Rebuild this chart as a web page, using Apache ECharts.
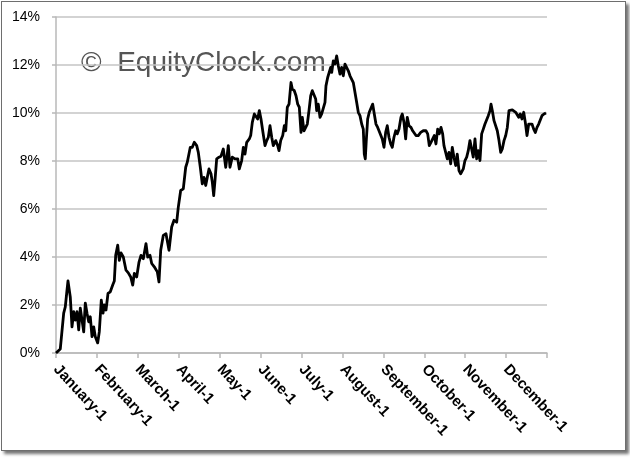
<!DOCTYPE html>
<html>
<head>
<meta charset="utf-8">
<script src="https://cdn.jsdelivr.net/npm/echarts@6/dist/echarts.min.js"></script>
<style>
  html, body { margin: 0; padding: 0; background: #fff; }
  #frame { position: absolute; left: 1px; top: 1px; width: 623px; height: 448px;
           border: 1px solid #6e6e6e; box-shadow: 3px 3px 3px rgba(0,0,0,0.55); background: #fff; }
  #chart { position: absolute; left: 0; top: 0; width: 630px; height: 458px; }
</style>
</head>
<body>
<div id="frame"></div>
<div id="chart"></div>
<script>
// Month tick labels (x axis, month positions 0..11)
const monthLabels = ['January-1','February-1','March-1','April-1','May-1','June-1',
                     'July-1','August-1','September-1','October-1','November-1','December-1'];
// Y axis tick values (percent)
const yTicks = [0, 2, 4, 6, 8, 10, 12, 14];
// Position within the year, in months from January-1
const monthPos = [
 0.00,0.105,0.188,0.227,0.262,0.293,0.349,0.391,0.433,0.472,0.513,0.555,0.594,0.635,0.677,0.716,0.758,0.799,0.838,0.880,
 0.921,0.961,1.019,1.058,1.107,1.149,1.180,1.222,1.271,1.327,1.386,1.425,1.459,1.508,1.547,1.589,1.645,1.711,1.767,1.826,
 1.875,1.914,1.972,2.029,2.077,2.134,2.200,2.241,2.297,2.339,2.402,2.476,2.517,2.559,2.622,2.688,2.762,2.827,2.884,2.950,
 2.989,3.047,3.111,3.170,3.209,3.250,3.282,3.331,3.380,3.439,3.478,3.527,3.575,3.617,3.659,3.698,3.739,3.788,3.820,3.854,
 3.886,3.927,3.984,4.033,4.089,4.148,4.211,4.252,4.309,4.375,4.441,4.480,4.538,4.578,4.619,4.661,4.724,4.758,4.798,4.847,
 4.888,4.929,4.969,5.010,5.052,5.108,5.150,5.189,5.230,5.272,5.311,5.370,5.419,5.450,5.492,5.541,5.580,5.614,5.653,5.695,
 5.743,5.775,5.824,5.866,5.907,5.946,5.988,6.020,6.061,6.103,6.142,6.183,6.225,6.264,6.305,6.347,6.371,6.410,6.452,6.493,
 6.532,6.574,6.598,6.640,6.672,6.713,6.738,6.777,6.819,6.860,6.899,6.941,6.982,7.021,7.063,7.104,7.144,7.185,7.227,7.266,
 7.307,7.349,7.388,7.429,7.471,7.510,7.534,7.559,7.583,7.617,7.656,7.698,7.740,7.779,7.820,7.862,7.894,7.942,7.974,8.016,
 8.057,8.096,8.138,8.180,8.219,8.260,8.302,8.341,8.383,8.431,8.463,8.505,8.546,8.585,8.627,8.676,8.717,8.756,8.798,8.854,
 8.913,8.976,9.042,9.084,9.123,9.164,9.206,9.245,9.286,9.328,9.367,9.409,9.450,9.482,9.523,9.563,9.604,9.646,9.685,9.726,
 9.768,9.807,9.849,9.890,9.929,9.954,9.995,10.037,10.076,10.117,10.159,10.198,10.240,10.281,10.320,10.362,10.403,10.443,10.484,10.526,
 10.565,10.607,10.631,10.663,10.705,10.746,10.785,10.827,10.868,10.907,10.949,10.991,11.030,11.071,11.113,11.152,11.194,11.235,11.274,11.308,
 11.347,11.389,11.431,11.470,11.511,11.553,11.592,11.633,11.675,11.714,11.756,11.797,11.836,11.877,11.926,11.975
];
// Cumulative seasonal return, percent
const returnPct = [
 0.00,0.17,1.66,1.92,2.50,3.00,2.34,1.09,1.72,1.37,1.72,0.96,1.87,1.92,0.88,2.08,1.66,1.30,1.51,0.68,
 1.09,0.68,0.42,0.88,2.20,1.66,2.00,1.79,2.48,2.55,2.83,3.00,4.07,4.49,3.86,4.17,4.00,3.45,3.34,3.17,
 2.83,3.32,3.17,3.79,4.07,3.93,4.56,4.00,4.07,3.73,3.59,3.38,2.96,4.28,4.90,4.97,4.28,5.25,5.53,5.45,
 6.08,6.77,6.84,7.74,7.95,7.88,8.57,8.57,8.78,8.64,8.36,7.74,7.05,7.32,6.98,7.32,7.67,7.47,7.12,6.56,
 7.19,8.09,8.16,8.20,8.50,7.74,8.64,7.74,8.16,8.09,8.09,7.67,8.02,8.57,8.29,8.78,8.92,9.06,9.61,9.96,
 10.03,9.75,10.10,9.75,9.26,8.64,8.85,8.99,9.47,8.99,8.64,8.85,8.64,8.43,8.85,9.06,9.47,9.26,10.24,10.37,
 11.27,11.00,10.93,10.72,10.37,10.24,9.19,9.82,9.26,9.26,9.54,10.10,10.72,10.93,10.93,10.58,10.10,10.37,9.82,9.96,
 10.03,10.44,11.13,11.48,11.41,11.90,11.69,12.17,12.04,12.38,11.97,11.62,11.90,11.55,12.04,12.04,11.76,11.55,11.62,11.27,
 11.34,10.44,10.03,9.89,9.54,9.33,8.29,8.09,8.85,9.75,10.03,9.96,10.37,9.96,9.54,9.40,9.26,9.19,8.92,8.57,
 9.19,9.47,8.99,8.71,8.57,8.99,9.26,9.13,9.33,9.82,9.96,9.61,8.92,9.82,9.47,9.40,9.26,9.19,9.06,9.06,
 9.19,9.26,9.26,9.13,8.64,8.78,8.78,9.06,8.71,9.33,9.13,9.40,9.13,8.64,8.57,8.09,8.36,7.88,8.57,8.16,
 7.81,8.29,7.60,7.47,7.40,7.67,8.02,8.16,8.43,8.85,8.85,8.16,8.92,8.09,8.43,8.02,9.13,9.33,9.54,9.47,
 9.89,10.10,10.37,10.10,9.68,9.61,9.26,8.85,8.36,8.50,8.85,9.06,9.40,10.10,10.17,10.13,10.10,10.03,10.03,9.82,
 9.96,9.75,10.03,9.61,9.06,9.54,9.47,9.54,9.33,9.19,9.40,9.54,9.47,9.89,9.96,10.00
];

const seriesData = monthPos.map((m, i) => [m, returnPct[i]]);

const chart = echarts.init(document.getElementById('chart'), null, { renderer: 'canvas' });
chart.setOption({
  animation: false,
  backgroundColor: 'transparent',
  grid: { left: 56, top: 17, width: 491, height: 336, containLabel: false },
  graphic: [{
    type: 'text', left: 81, top: 49, z: 0,
    style: { text: '\u00A9  EquityClock.com', fontFamily: 'Liberation Sans, Arial, sans-serif',
             fontSize: 28, fill: '#555555' }
  }],
  xAxis: {
    type: 'value', min: 0, max: 12, interval: 1,
    axisLine: { show: true, lineStyle: { color: '#b8b8b8', width: 1.5 } },
    axisTick: { show: true, length: 5, lineStyle: { color: '#b8b8b8', width: 1.5 } },
    splitLine: { show: false },
    axisLabel: {
      rotate: -47, margin: 14, color: '#000',
      fontFamily: 'Liberation Sans, Arial, sans-serif', fontSize: 15, fontWeight: 'bold',
      formatter: v => (Number.isInteger(v) && v < monthLabels.length) ? monthLabels[v] : ''
    }
  },
  yAxis: {
    type: 'value', min: yTicks[0], max: yTicks[yTicks.length - 1], interval: 2,
    axisLine: { show: true, lineStyle: { color: '#b8b8b8', width: 1.5 } },
    axisTick: { show: true, length: 4, lineStyle: { color: '#b8b8b8', width: 1.5 } },
    splitLine: { show: true, lineStyle: { color: '#c4c4c4', width: 1.5 } },
    axisLabel: {
      margin: 16, color: '#000',
      fontFamily: 'Liberation Sans, Arial, sans-serif', fontSize: 14,
      formatter: v => v + '%'
    }
  },
  series: [{
    type: 'line', data: seriesData, showSymbol: false, smooth: false, z: 5,
    lineStyle: { color: '#000', width: 2.8, join: 'round' }
  }]
});
</script>
</body>
</html>
